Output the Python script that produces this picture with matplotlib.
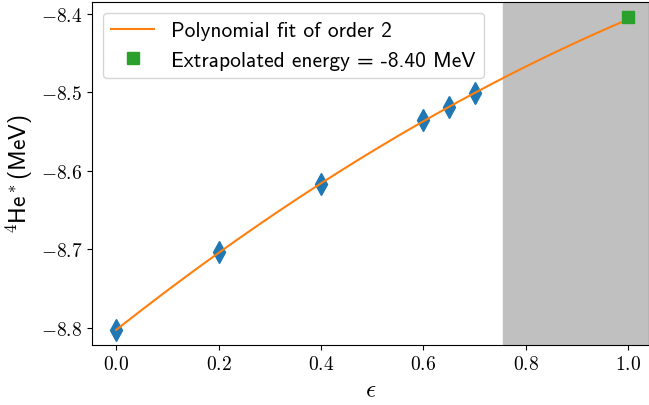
import numpy as np
import matplotlib
matplotlib.use('Agg')
import matplotlib.pyplot as plt
from matplotlib.ticker import FuncFormatter

plt.rcParams['mathtext.fontset'] = 'cm'
plt.rcParams['font.family'] = ['cmss10', 'DejaVu Sans']

# data
eps = [0.0, 0.2, 0.4, 0.6, 0.65, 0.7]
energy = [-8.803, -8.704, -8.617, -8.536, -8.519, -8.501]
extrap_eps = 1.0
extrap_energy = -8.404

coef = np.polyfit(eps, energy, 2)
xs = np.linspace(0.0, 1.0, 200)

fig = plt.figure(figsize=(6.49, 4.06), dpi=100)
ax = fig.add_axes([0.1418, 0.1478, 0.858, 0.845])

ax.axvspan(0.755, 1.1, color='silver', zorder=0)
ax.plot(eps, energy, 'd', color='tab:blue', markersize=11, zorder=2)
ax.plot(xs, np.polyval(coef, xs), color='tab:orange',
        label='Polynomial fit of order 2', zorder=3)
ax.plot([extrap_eps], [extrap_energy], 's', color='tab:green', markersize=9,
        label='Extrapolated energy = {:.2f} MeV'.format(extrap_energy), zorder=4)

ax.set_xlim(-0.047, 1.04)
ax.set_ylim(-8.822, -8.385)
ax.set_xticks([0.0, 0.2, 0.4, 0.6, 0.8, 1.0])
ax.set_yticks([-8.8, -8.7, -8.6, -8.5, -8.4])
fmt = FuncFormatter(lambda v, p: '${:.1f}$'.format(v))
ax.xaxis.set_major_formatter(fmt)
ax.yaxis.set_major_formatter(fmt)
ax.tick_params(labelsize=14)

ax.set_xlabel(r'$\epsilon$', fontsize=18)
ax.set_ylabel(r'$^4$He$^*$(MeV)', fontsize=17)
ax.legend(loc='upper left', fontsize=15.4)

fig.savefig('out.png', dpi=100)
